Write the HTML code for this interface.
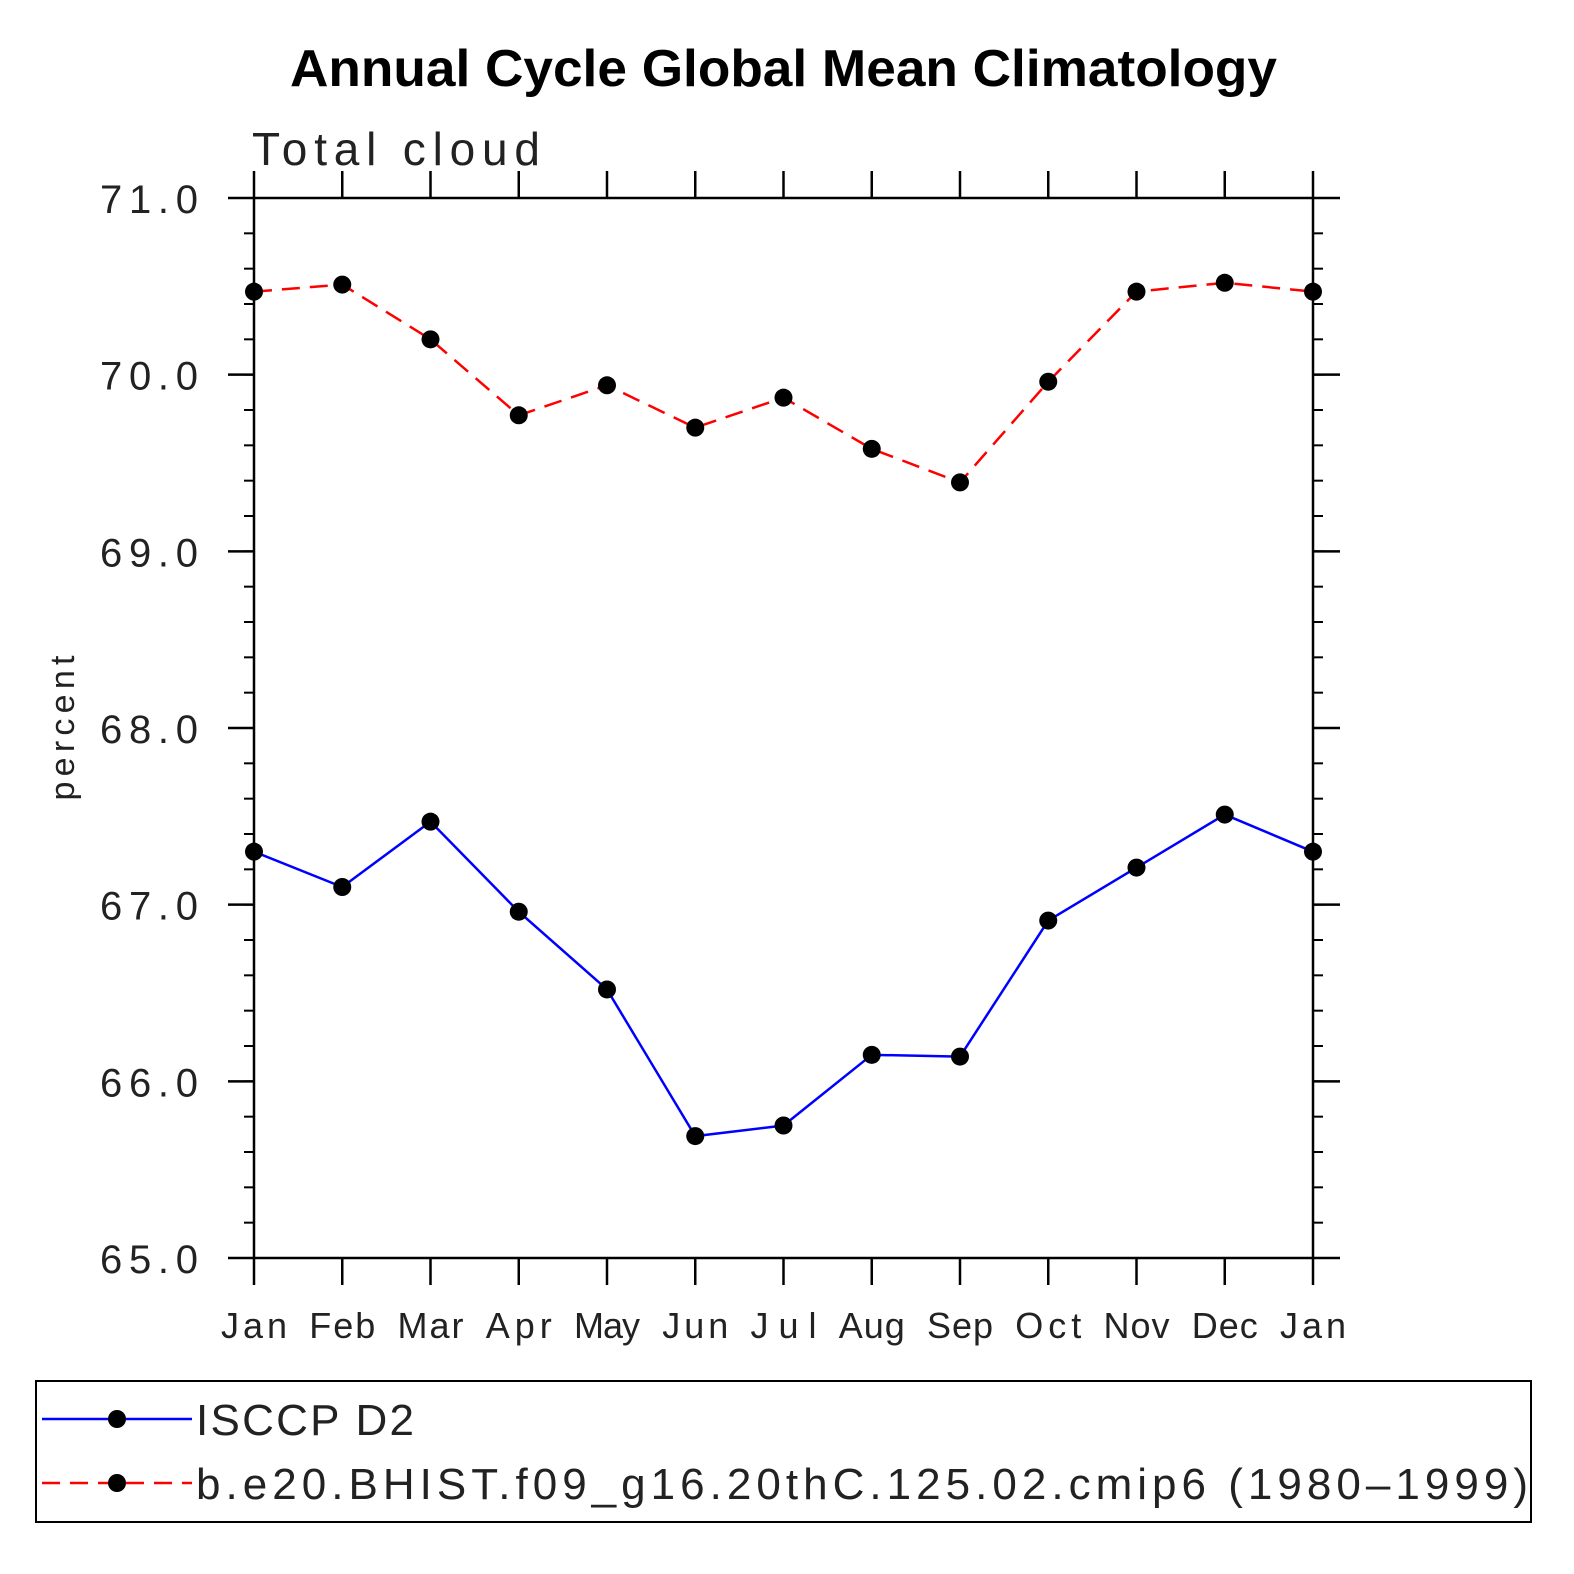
<!DOCTYPE html>
<html><head><meta charset="utf-8"><style>
html,body{margin:0;padding:0;background:#fff;}
svg{display:block;font-family:"Liberation Sans",sans-serif;}
</style></head><body>
<svg id="chart" width="1574" height="1574" viewBox="0 0 1574 1574">
<text x="290" y="86" font-size="52" font-weight="bold" textLength="987" lengthAdjust="spacingAndGlyphs">Annual Cycle Global Mean Climatology</text>
<text x="252" y="165" font-size="46" fill="#222" textLength="288" lengthAdjust="spacing">Total cloud</text>
<text transform="translate(74,728) rotate(-90)" text-anchor="middle" font-size="34" fill="#222" textLength="145" lengthAdjust="spacing">percent</text>
<g id="axes"></g>
<g id="series"></g>
<rect x="36" y="1381" width="1495" height="141" fill="none" stroke="#000" stroke-width="2"/>
<g>
<line x1="42" y1="1419" x2="192" y2="1419" stroke="#0000ff" stroke-width="2.5"/>
<circle cx="117" cy="1419" r="9" fill="#000"/>
<text x="196" y="1435" font-size="44" fill="#222" textLength="218" lengthAdjust="spacing">ISCCP D2</text>
</g>
<g>
<line x1="42" y1="1483" x2="192" y2="1483" stroke="#ff0000" stroke-width="2.5" stroke-dasharray="18,10"/>
<circle cx="117" cy="1483" r="9" fill="#000"/>
<text x="196" y="1499" font-size="44" fill="#222" textLength="1332" lengthAdjust="spacing">b.e20.BHIST.f09_g16.20thC.125.02.cmip6 (1980–1999)</text>
</g>
</svg>
<script>
const months = ["Jan","Feb","Mar","Apr","May","Jun","Jul","Aug","Sep","Oct","Nov","Dec","Jan"];
const isccp = [67.30,67.10,67.47,66.96,66.52,65.69,65.75,66.15,66.14,66.91,67.21,67.51,67.30];
const model = [70.47,70.51,70.20,69.77,69.94,69.70,69.87,69.58,69.39,69.96,70.47,70.52,70.47];
const yTicks = [65,66,67,68,69,70,71];

const X0=254,X1=1313,Y0=1258,Y1=198,YMIN=65,YMAX=71;
const xs=i=>X0+(X1-X0)*i/(months.length-1);
const ys=v=>Y0-(Y0-Y1)*(v-YMIN)/(YMAX-YMIN);
const NS="http://www.w3.org/2000/svg";
const ax=document.getElementById("axes"), se=document.getElementById("series");
function mk(tag,attrs,parent){const e=document.createElementNS(NS,tag);for(const k in attrs)e.setAttribute(k,attrs[k]);parent.appendChild(e);return e;}

const frame=mk("rect",{x:X0,y:Y1,width:X1-X0,height:Y0-Y1,fill:"none",stroke:"#000","stroke-width":2.5},ax);



for(let v=YMIN;v<=YMAX+1e-6;v+=0.2){
  const y=ys(v);
  mk("line",{x1:X0-10,y1:y,x2:X0,y2:y,stroke:"#000","stroke-width":2},ax);
  mk("line",{x1:X1,y1:y,x2:X1+10,y2:y,stroke:"#000","stroke-width":2},ax);
}
yTicks.forEach(v=>{
  const y=ys(v);
  mk("line",{x1:X0-26,y1:y,x2:X0,y2:y,stroke:"#000","stroke-width":2.5},ax);
  mk("line",{x1:X1,y1:y,x2:X1+27,y2:y,stroke:"#000","stroke-width":2.5},ax);
  const t=mk("text",{x:100,y:y+15,"font-size":40,fill:"#222",textLength:98,lengthAdjust:"spacing"},ax);
  t.textContent=v.toFixed(1);
  
  
});
months.forEach((m,i)=>{
  const x=xs(i);
  mk("line",{x1:x,y1:Y1-27,x2:x,y2:Y1,stroke:"#000","stroke-width":2.5},ax);
  mk("line",{x1:x,y1:Y0,x2:x,y2:Y0+27,stroke:"#000","stroke-width":2.5},ax);
  const t=mk("text",{x:x-33,y:Y0+80,"font-size":36,fill:"#222",textLength:66,lengthAdjust:"spacing"},ax);
  t.textContent=m;
  
  
});

function drawSeries(vals,color,dash,name){
  const p=mk("polyline",{points:vals.map((v,i)=>xs(i)+","+ys(v)).join(" "),fill:"none",stroke:color,"stroke-width":2.5,"stroke-dasharray":dash},se);
  
  
  vals.forEach((v,i)=>{
    const c=mk("circle",{cx:xs(i),cy:ys(v),r:9,fill:"#000"},se);
    
    
  });
}
drawSeries(isccp,"#0000ff","none","isccp");
drawSeries(model,"#ff0000","18,10","model");
</script>
</body></html>
